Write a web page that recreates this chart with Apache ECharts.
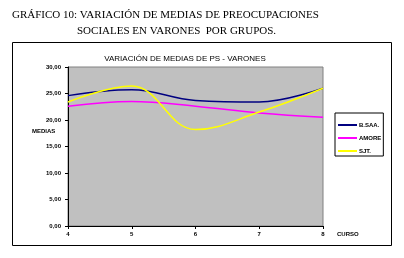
<!DOCTYPE html>
<html>
<head>
<meta charset="utf-8">
<script src="https://cdn.jsdelivr.net/npm/echarts@6/dist/echarts.min.js"></script>
<style>
  html, body { margin: 0; padding: 0; background: #fff; }
  #chart { width: 404px; height: 258px; }
</style>
</head>
<body>
<div id="chart"></div>
<script>
// curso 4..8, medias por grupo
var cursos = [4, 5, 6, 7, 8];
var grupos = ['B.SAA.', 'AMORE', 'SJT.'];
var bsaa  = [24.6, 25.7, 23.7, 23.4, 26.0];
var amore = [22.6, 23.5, 22.6, 21.3, 20.5];
var sjt   = [23.4, 26.4, 18.2, 21.5, 26.0];
var yTicks = [0, 5, 10, 15, 20, 25, 30];

function pares(vals) {
    return cursos.map(function (c, i) { return [c, vals[i]]; });
}

var colores = ['#000080', '#ff00ff', '#ffff00'];
var lab = { fontFamily: 'Liberation Sans', fontSize: 6, fontWeight: 'bold', color: '#000' };

var myChart = echarts.init(document.getElementById('chart'));
var option = {
    backgroundColor: '#fff',
    animation: false,
    title: {
        text: 'VARIACIÓN DE MEDIAS DE PS - VARONES',
        left: 180, top: 50, textAlign: 'center',
        textStyle: { fontFamily: 'Liberation Sans', fontSize: 8, fontWeight: 'normal', color: '#000' }
    },
    legend: {
        orient: 'vertical',
        left: 335, top: 113,
        data: grupos,
        icon: 'rect',
        itemWidth: 19, itemHeight: 2,
        itemGap: 7,
        padding: [9, 2, 2, 3],
        borderColor: '#000', borderWidth: 1,
        textStyle: Object.assign({ padding: [0, 0, 0, -3] }, lab)
    },
    grid: {
        left: 68, right: 81, top: 67, bottom: 32,
        show: true, backgroundColor: '#c0c0c0', borderColor: '#808080', borderWidth: 1
    },
    xAxis: {
        type: 'value', min: 4, max: 8, interval: 1,
        name: 'CURSO', nameLocation: 'end', nameGap: 14,
        nameTextStyle: Object.assign({ verticalAlign: 'top', padding: [5, 0, 0, 0] }, lab),
        axisLine: { lineStyle: { color: '#000', width: 1 } },
        axisTick: { show: true, length: 3, lineStyle: { color: '#000' } },
        axisLabel: Object.assign({ margin: 5 }, lab),
        splitLine: { show: false }
    },
    yAxis: {
        type: 'value', min: 0, max: 30, interval: 5,
        axisLine: { show: true, lineStyle: { color: '#000', width: 1 } },
        axisTick: { show: true, length: 3, lineStyle: { color: '#000' } },
        axisLabel: Object.assign({ margin: 7, formatter: function (v) {
            return yTicks.indexOf(v) >= 0 ? v.toFixed(2).replace('.', ',') : '';
        } }, lab),
        splitLine: { show: false }
    },
    graphic: [
        { type: 'rect', shape: { x: 12.5, y: 42.5, width: 379, height: 203 },
          style: { fill: 'none', stroke: '#000', lineWidth: 1 }, z: -1 },
        { type: 'text', left: 12, top: 10,
          style: { text: 'GRÁFICO 10: VARIACIÓN DE MEDIAS DE PREOCUPACIONES',
                   font: '11px "Liberation Serif"', fill: '#000' } },
        { type: 'text', left: 77, top: 26,
          style: { text: 'SOCIALES EN VARONES  POR GRUPOS.',
                   font: '11px "Liberation Serif"', fill: '#000' } },
        { type: 'text', left: 32, top: 128,
          style: { text: 'MEDIAS', font: 'bold 6px "Liberation Sans"', fill: '#000' } }
    ],
    series: [
        { name: grupos[0], type: 'line', smooth: 0.4, symbol: 'none', data: pares(bsaa),
          lineStyle: { color: colores[0], width: 1.5 }, itemStyle: { color: colores[0] } },
        { name: grupos[1], type: 'line', smooth: 0.4, symbol: 'none', data: pares(amore),
          lineStyle: { color: colores[1], width: 1.5 }, itemStyle: { color: colores[1] } },
        { name: grupos[2], type: 'line', smooth: 0.4, symbol: 'none', data: pares(sjt),
          lineStyle: { color: colores[2], width: 1.5 }, itemStyle: { color: colores[2] } }
    ]
};
myChart.setOption(option);
</script>
</body>
</html>
